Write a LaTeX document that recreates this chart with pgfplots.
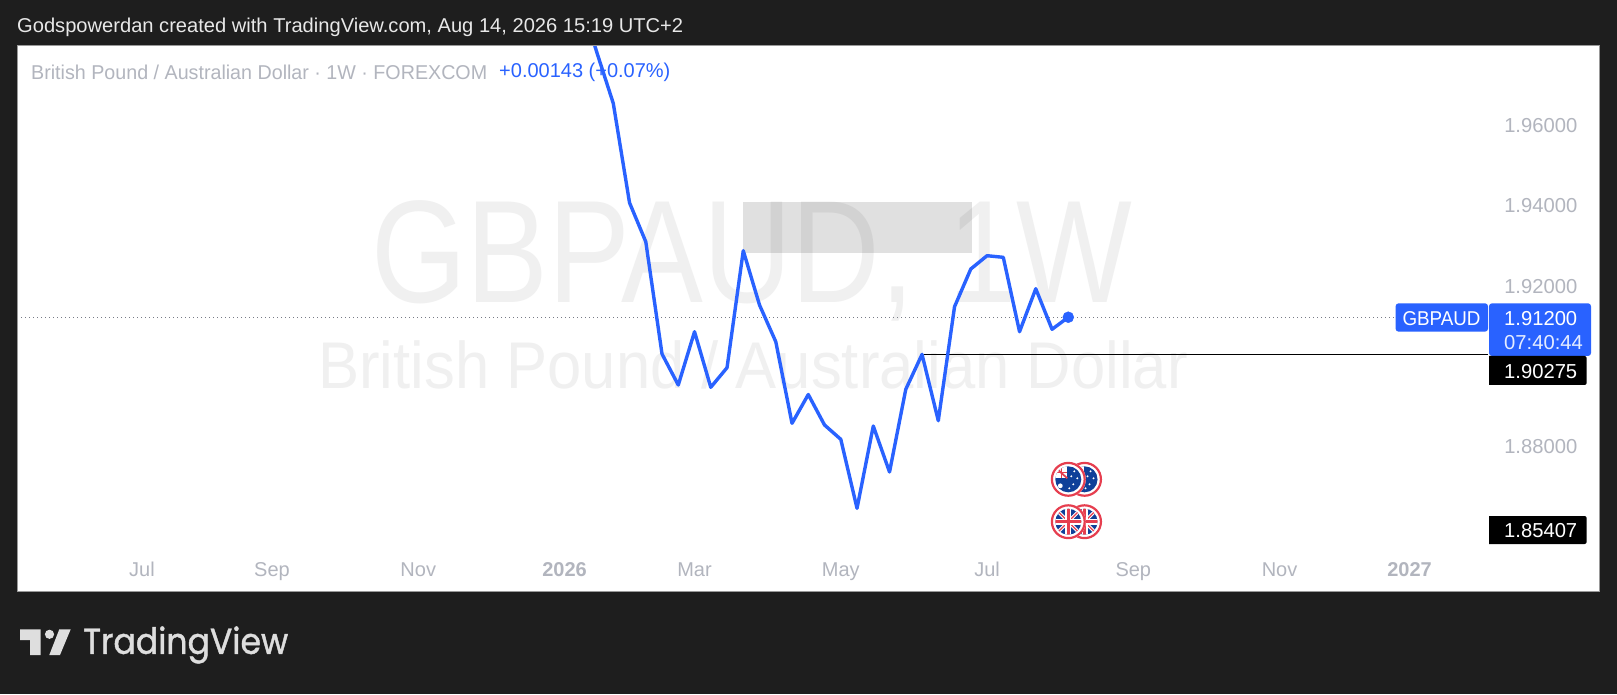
\documentclass[border=0pt]{standalone}
\usepackage{fontspec}
\setmainfont{Liberation Sans}
\newfontfamily\tvfont[FakeBold=1.2]{Poppins}
\usepackage{graphicx}
\usepackage{pgfplots}
\pgfplotsset{compat=1.18}
\definecolor{tvbg}{HTML}{1E1E1E}
\definecolor{tvblue}{HTML}{2962FF}
\definecolor{tvgray}{HTML}{B2B5BE}
\definecolor{tvdot}{HTML}{787B86}
\definecolor{tvwm}{HTML}{F0F0F0}
\definecolor{tvred}{HTML}{E63E4F}
\definecolor{aublue}{HTML}{0F4099}
\definecolor{tvlogo}{HTML}{DEDEDE}
\tikzset{px/.style={x=1pt,y=-1pt,shift={(0pt,694pt)}}}
\newcommand{\fsz}[1]{\fontsize{#1}{#1}\selectfont}
% pure pgf helpers for the icon marks
\newcommand{\pdisc}[4]{\begin{pgfscope}\pgfsetfillcolor{#1}\pgfpathcircle{\pgfpoint{#2pt}{#3pt}}{#4pt}\pgfusepath{fill}\end{pgfscope}}
\newcommand{\pring}[3]{\begin{pgfscope}\pgfsetstrokecolor{#1}\pgfsetlinewidth{#2pt}\pgfpathcircle{\pgfpointorigin}{#3pt}\pgfusepath{stroke}\end{pgfscope}}
\newcommand{\pline}[6]{\begin{pgfscope}\pgfsetstrokecolor{#1}\pgfsetlinewidth{#2pt}\pgfpathmoveto{\pgfpoint{#3pt}{#4pt}}\pgfpathlineto{\pgfpoint{#5pt}{#6pt}}\pgfusepath{stroke}\end{pgfscope}}
\newcommand{\prect}[5]{\begin{pgfscope}\pgfsetfillcolor{#1}\pgfpathrectanglecorners{\pgfpoint{#2pt}{#3pt}}{\pgfpoint{#4pt}{#5pt}}\pgfusepath{fill}\end{pgfscope}}
\pgfdeclareplotmark{auflag}{%
  \pdisc{white}{0}{0}{17.5}%
  \pring{tvred}{2.2}{16.4}%
  \begin{pgfscope}
    \pgfpathcircle{\pgfpointorigin}{13pt}\pgfusepath{clip}%
    \prect{aublue}{-14}{-14}{14}{14}%
    \prect{white}{-14}{1}{-1}{14}%
    \pline{tvred}{1.8}{-13}{12}{-1}{1}%
    \pline{tvred}{1.2}{-13}{6.5}{-1}{6.5}%
    \pline{tvred}{1.2}{-7}{14}{-7}{1}%
    \pdisc{white}{-8}{-6.5}{2.4}%
    \pdisc{white}{6}{8}{1.1}\pdisc{white}{9}{1}{1.1}\pdisc{white}{5}{-5}{1.1}\pdisc{white}{3}{3}{1.1}\pdisc{white}{1}{-9}{1.1}%
  \end{pgfscope}
}
\pgfdeclareplotmark{ukflag}{%
  \pdisc{white}{0}{0}{17.5}%
  \pring{tvred}{2.2}{16.4}%
  \begin{pgfscope}
    \pgfpathcircle{\pgfpointorigin}{13pt}\pgfusepath{clip}%
    \prect{aublue}{-14}{-14}{14}{14}%
    \pline{white}{3.4}{-14}{-14}{14}{14}\pline{white}{3.4}{-14}{14}{14}{-14}%
    \pline{tvred}{1.2}{-14}{-14}{14}{14}\pline{tvred}{1.2}{-14}{14}{14}{-14}%
    \pline{white}{6}{-14}{0}{14}{0}\pline{white}{6}{0}{-14}{0}{14}%
    \pline{tvred}{3}{-14}{0}{14}{0}\pline{tvred}{3}{0}{-14}{0}{14}%
  \end{pgfscope}
}
\begin{document}
\begin{tikzpicture}
\begin{scope}[px]
  \fill[tvbg] (0,0) rectangle (1617,694);
  \fill[white] (17,46) rectangle (1599,591.7);
  \node[anchor=center,text=tvwm,inner sep=0pt] at (752,261) {\fsz{146}\scalebox{.84}[1]{GBPAUD, 1W}};
  \node[anchor=center,text=tvwm,inner sep=0pt] at (753,365) {\fsz{66}\scalebox{.933}[1]{British Pound / Australian Dollar}};
  \node[anchor=west,text=tvgray,inner sep=0pt] at (31,72.5) {\fsz{20}\scalebox{.984}[1]{British Pound / Australian Dollar · 1W · FOREXCOM}};
  \node[anchor=west,text=tvblue,inner sep=0pt] at (499,72.5) {\fsz{20}+0.00143 (+0.07\%)};
  \node[anchor=west,text=white!91!black,inner sep=0pt] at (17,27.5) {\fsz{20}\scalebox{1.006}[1]{Godspowerdan created with TradingView.com, Aug 14, 2026 15:19 UTC+2}};
\end{scope}
\begin{axis}[
  at={(17pt,102.3pt)},anchor=south west,
  width=1471pt,height=545.7pt,scale only axis,
  xmin=-33.692,xmax=56.83,
  ymin=1.84364,ymax=1.97955,
  axis line style={draw=none},
  tick style={draw=none},
  xtick={-26,-18,-9,0,8,17,26,35,44,52},
  xticklabels={Jul,Sep,Nov,\textbf{2026},Mar,May,Jul,Sep,Nov,\textbf{2027}},
  x tick label style={text=tvgray,font=\fsz{20},inner sep=0pt,anchor=base,yshift=15.7pt},
  ytick={1.88,1.92,1.94,1.96},
  yticklabel pos=right,
  y tick label style={text=tvgray,font=\fsz{20.2},inner sep=0pt,anchor=west,xshift=16pt,yshift=-1.2pt,
    /pgf/number format/.cd,fixed,fixed zerofill,precision=5,assume math mode=true},
]
\addplot[draw=none,fill=black,fill opacity=.12] coordinates {(11,1.94062) (25.08,1.94062) (25.08,1.92807) (11,1.92807)} --cycle;
\addplot[draw=tvdot,line width=1pt,dash pattern=on 1pt off 3pt] coordinates {(-33.692,1.912) (51.15,1.912)};
\addplot[draw=black,line width=1pt] coordinates {(22,1.90275) (56.83,1.90275)};
\addplot[draw=tvblue,line width=3.4pt,line join=round,line cap=round] coordinates {
(1,1.99101) (2,1.97781) (3,1.96528) (4,1.94052) (5,1.93081) (6,1.90284) (7,1.89512) (8,1.90839)
(9,1.89455) (10,1.89943) (11,1.92857) (12,1.91504) (13,1.9059) (14,1.88558) (15,1.89275)
(16,1.88516) (17,1.88159) (18,1.86441) (19,1.88491) (20,1.87345) (21,1.89405) (22,1.90275)
(23,1.88623) (24,1.91462) (25,1.92401) (26,1.92732) (27,1.92692) (28,1.90839) (29,1.9191)
(30,1.90899) (31,1.912)};
\addplot[only marks,mark=*,mark size=5.5pt,color=tvblue] coordinates {(31,1.912)};
\addplot[only marks,mark=auflag] coordinates {(32,1.87163) (31,1.87163)};
\addplot[only marks,mark=ukflag] coordinates {(32,1.86107) (31,1.86107)};
\end{axis}
\begin{scope}[px]
  \draw[gray!80,line width=1pt] (17,46) rectangle (1599,591.7);
  \fill[tvblue,rounded corners=3pt] (1395.6,303.3) rectangle (1488,331.7);
  \fill[tvblue,rounded corners=3pt] (1489,303.3) rectangle (1591,356);
  \fill[black] (1489,356) [rounded corners=2pt] -- (1586.6,356) -- (1586.6,385) [sharp corners] -- (1489,385) -- cycle;
  \fill[black] (1489,516) [rounded corners=2pt] -- (1586.6,516) -- (1586.6,544) [sharp corners] -- (1489,544) -- cycle;
  \node[anchor=center,text=white,inner sep=0pt] at (1441.5,319) {\fsz{20}\scalebox{.94}[1]{GBPAUD}};
  \node[anchor=west,text=white,inner sep=0pt] at (1504,319) {\fsz{20.2}1.91200};
  \node[anchor=west,text=white!88!tvblue,inner sep=0pt] at (1504,343) {\fsz{20.2}07:40:44};
  \node[anchor=west,text=white,inner sep=0pt] at (1504,372) {\fsz{20.2}1.90275};
  \node[anchor=west,text=white,inner sep=0pt] at (1504,531) {\fsz{20.2}1.85407};
  % TradingView logo
  \fill[tvlogo] (20,629.3) -- (40.7,629.3) -- (40.7,655) -- (30,655) -- (30,640) -- (20,640) -- cycle;
  \fill[tvlogo] (49.5,634.3) circle (4.6);
  \fill[tvlogo] (70.7,629.3) -- (60,655) -- (49.3,655) -- (59.3,629.3) -- cycle;
  \node[anchor=west,text=tvlogo,inner sep=0pt] at (83,645) {\fsz{36}\tvfont\scalebox{.92}[1]{TradingView}};
\end{scope}
\end{tikzpicture}
\end{document}
